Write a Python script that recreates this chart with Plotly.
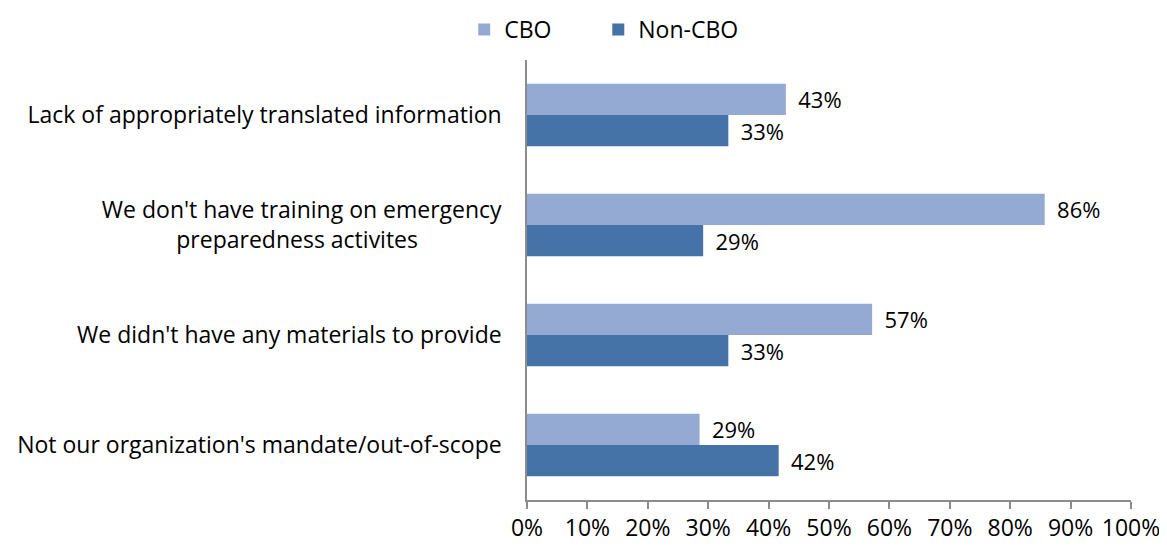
import plotly.graph_objects as go

categories = [
    "Lack of appropriately translated information",
    "We don't have training on emergency<br>preparedness activites" + "\u00a0" * 14,
    "We didn't have any materials to provide",
    "Not our organization's mandate/out-of-scope",
]
series_names = ["CBO" + "\u00a0" * 7, "Non-CBO"]
cbo = [3/7, 6/7, 4/7, 2/7]
non_cbo = [8/24, 7/24, 8/24, 10/24]

FONT = "Open Sans"
FS = 23
colors = ["#95aad2", "#4572a7"]
fig = go.Figure()
for name, vals, col in zip(series_names, [cbo, non_cbo], colors):
    fig.add_trace(go.Bar(
        name=name, y=categories, x=vals, orientation="h",
        marker=dict(color=col, line=dict(width=0)),
        texttemplate="\u00a0\u2009%{x:.0%}", textposition="outside",
        textfont=dict(size=22, color="black", family=FONT), cliponaxis=False,
    ))

fig.update_layout(
    width=1159, height=540,
    margin=dict(l=519, r=36, t=52, b=48, autoexpand=False),
    barmode="group", bargap=0.43, bargroupgap=0,
    plot_bgcolor="white", paper_bgcolor="white",
    font=dict(family=FONT, size=FS, color="black"),
    legend=dict(orientation="h", x=0.514, xanchor="center", xref="container",
                y=1.0, yanchor="top", yref="container",
                font=dict(size=FS), itemwidth=30, traceorder="normal"),
    uniformtext=dict(minsize=22, mode="show"),
)
fig.update_xaxes(
    range=[0, 1], dtick=0.1, tickformat=".0%", showgrid=False, zeroline=False,
    showline=True, linecolor="#8c8c8c", linewidth=1.5,
    ticks="outside", ticklen=7, tickcolor="#8c8c8c", tickwidth=1.5,
    tickfont=dict(size=FS),
)
fig.update_yaxes(
    autorange="reversed", showgrid=False, zeroline=False,
    showline=True, linecolor="#8c8c8c", linewidth=1.5,
    ticks="", ticklabelstandoff=19, tickfont=dict(size=FS),
)
fig.write_html("out.html")
